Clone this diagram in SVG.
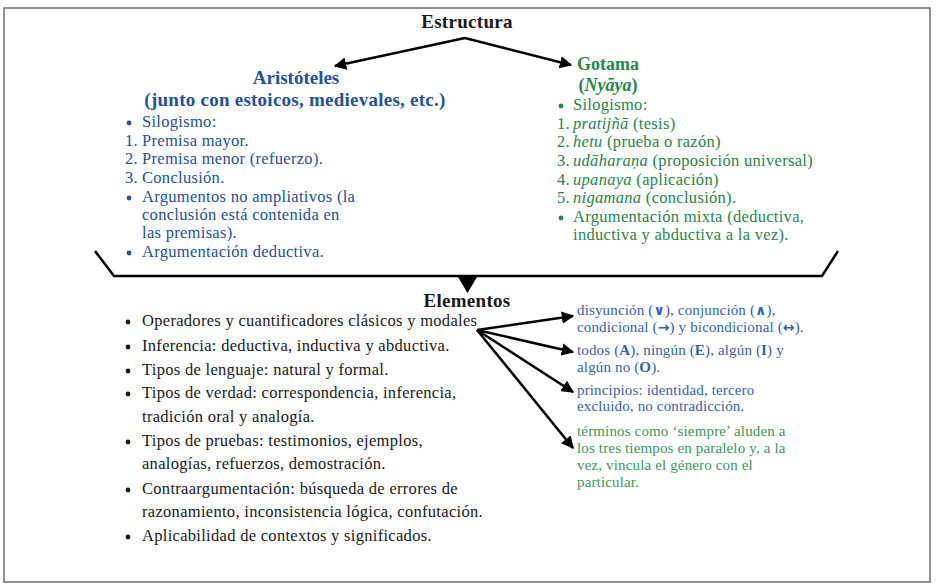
<svg xmlns="http://www.w3.org/2000/svg" width="936" height="588" viewBox="0 0 936 588">
<style>
text{font-family:"Liberation Serif","DejaVu Serif",serif;}
.h{font-weight:bold;font-size:18px;}
.t{font-size:19px;letter-spacing:0.3px;}
.blk{fill:#1a1a1a;}
.blue{fill:#25529c;}
.green{fill:#26874b;}
.lb{fill:#3563b0;}
.lg{fill:#3a9a5c;}
.l{font-size:16.5px;letter-spacing:0.3px;}
.s{font-size:15px;letter-spacing:0.15px;}
.b{font-weight:bold;}
.i{font-style:italic;}
.sym{font-family:"DejaVu Sans",sans-serif;font-weight:bold;font-size:14px;}
.con{stroke:#000;stroke-width:2.5;fill:none;}
</style>
<defs>
<marker id="ah" viewBox="0 0 10 10" refX="9" refY="5" markerWidth="5" markerHeight="5" orient="auto" markerUnits="strokeWidth">
<path d="M0,0 L10,5 L0,10 z" fill="#000"/>
</marker>
</defs>
<rect x="4" y="8" width="926" height="574" fill="#fff" stroke="#6e6e6e" stroke-width="1.5"/>

<g id="connectors">
<path class="con" d="M465,38 L335,66" marker-end="url(#ah)"/>
<path class="con" d="M465,38 L571,65" marker-end="url(#ah)"/>
<path class="con" d="M95,251 L114,276 L822,276 L838,251"/>
<path d="M458,277 L477,277 L467.5,293 z" fill="#000"/>
<path class="con" d="M477,330 L573,316" marker-end="url(#ah)"/>
<path class="con" d="M477,330 L573,352" marker-end="url(#ah)"/>
<path class="con" d="M477,330 L573,392" marker-end="url(#ah)"/>
<path class="con" d="M477,330 L573,448" marker-end="url(#ah)"/>
</g>

<g id="estructura">
<text class="h t blk" x="467" y="28" text-anchor="middle">Estructura</text>
</g>

<g id="aristoteles">
<text class="h blue" x="296" y="84" text-anchor="middle" style="font-size:19px">Aristóteles</text>
<text class="h blue" x="295" y="106" text-anchor="middle" style="font-size:19px;letter-spacing:0.25px">(junto con estoicos, medievales, etc.)</text>
<circle cx="129" cy="123" r="2.4" class="blue"/>
<text class="l blue" x="142" y="127">Silogismo:</text>
<text class="l blue" x="125" y="146">1.</text><text class="l blue" x="142" y="146">Premisa mayor.</text>
<text class="l blue" x="125" y="164">2.</text><text class="l blue" x="142" y="164">Premisa menor (refuerzo).</text>
<text class="l blue" x="125" y="183">3.</text><text class="l blue" x="142" y="183">Conclusión.</text>
<circle cx="129" cy="198" r="2.4" class="blue"/>
<text class="l blue" x="142" y="202">Argumentos no ampliativos (la</text>
<text class="l blue" x="142" y="220">conclusión está contenida en</text>
<text class="l blue" x="142" y="238">las premisas).</text>
<circle cx="129" cy="253" r="2.4" class="blue"/>
<text class="l blue" x="142" y="257">Argumentación deductiva.</text>
</g>

<g id="gotama">
<text class="h green" x="608" y="70" text-anchor="middle">Gotama</text>
<text class="h green" x="608" y="91" text-anchor="middle">(<tspan class="i">Nyāya</tspan>)</text>
<circle cx="561" cy="106" r="2.4" class="green"/>
<text class="l green" x="573" y="110">Silogismo:</text>
<text class="l green" x="557" y="129">1.</text><text class="l green" x="573" y="129"><tspan class="i">pratijñā</tspan> (tesis)</text>
<text class="l green" x="557" y="147">2.</text><text class="l green" x="573" y="147"><tspan class="i">hetu</tspan> (prueba o razón)</text>
<text class="l green" x="557" y="166">3.</text><text class="l green" x="573" y="166"><tspan class="i">udāharaṇa</tspan> (proposición universal)</text>
<text class="l green" x="557" y="185">4.</text><text class="l green" x="573" y="185"><tspan class="i">upanaya</tspan> (aplicación)</text>
<text class="l green" x="557" y="203">5.</text><text class="l green" x="573" y="203"><tspan class="i">nigamana</tspan> (conclusión).</text>
<circle cx="561" cy="218" r="2.4" class="green"/>
<text class="l green" x="573" y="222">Argumentación mixta (deductiva,</text>
<text class="l green" x="573" y="240">inductiva y abductiva a la vez).</text>
</g>

<g id="elementos">
<text class="h t blk" x="467" y="307" text-anchor="middle">Elementos</text>
<circle cx="128" cy="322" r="2.4" class="blk"/>
<text class="l blk" x="142" y="326">Operadores y cuantificadores clásicos y modales</text>
<circle cx="128" cy="347" r="2.4" class="blk"/>
<text class="l blk" x="142" y="351">Inferencia: deductiva, inductiva y abductiva.</text>
<circle cx="128" cy="371" r="2.4" class="blk"/>
<text class="l blk" x="142" y="375">Tipos de lenguaje: natural y formal.</text>
<circle cx="128" cy="394" r="2.4" class="blk"/>
<text class="l blk" x="142" y="398">Tipos de verdad: correspondencia, inferencia,</text>
<text class="l blk" x="142" y="422">tradición oral y analogía.</text>
<circle cx="128" cy="442" r="2.4" class="blk"/>
<text class="l blk" x="142" y="446">Tipos de pruebas: testimonios, ejemplos,</text>
<text class="l blk" x="142" y="469">analogías, refuerzos, demostración.</text>
<circle cx="128" cy="490" r="2.4" class="blk"/>
<text class="l blk" x="142" y="494">Contraargumentación: búsqueda de errores de</text>
<text class="l blk" x="142" y="517">razonamiento, inconsistencia lógica, confutación.</text>
<circle cx="128" cy="537" r="2.4" class="blk"/>
<text class="l blk" x="142" y="541">Aplicabilidad de contextos y significados.</text>
</g>

<g id="operadores">
<text class="s lb" x="577" y="315">disyunción (<tspan class="sym">∨</tspan>), conjunción (<tspan class="sym">∧</tspan>),</text>
<text class="s lb" x="577" y="332">condicional (<tspan class="sym">→</tspan>) y bicondicional (<tspan class="sym">↔</tspan>).</text>
</g>
<g id="cuantificadores">
<text class="s lb" x="577" y="355">todos (<tspan class="b">A</tspan>), ningún (<tspan class="b">E</tspan>), algún (<tspan class="b">I</tspan>) y</text>
<text class="s lb" x="577" y="372">algún no (<tspan class="b">O</tspan>).</text>
</g>
<g id="principios">
<text class="s lb" x="577" y="395">principios: identidad, tercero</text>
<text class="s lb" x="577" y="411">excluido, no contradicción.</text>
</g>
<g id="terminos">
<text class="s lg" x="577" y="436">términos como ‘siempre’ aluden a</text>
<text class="s lg" x="577" y="453">los tres tiempos en paralelo y, a la</text>
<text class="s lg" x="577" y="470">vez, vincula el género con el</text>
<text class="s lg" x="577" y="487">particular.</text>
</g>
</svg>
